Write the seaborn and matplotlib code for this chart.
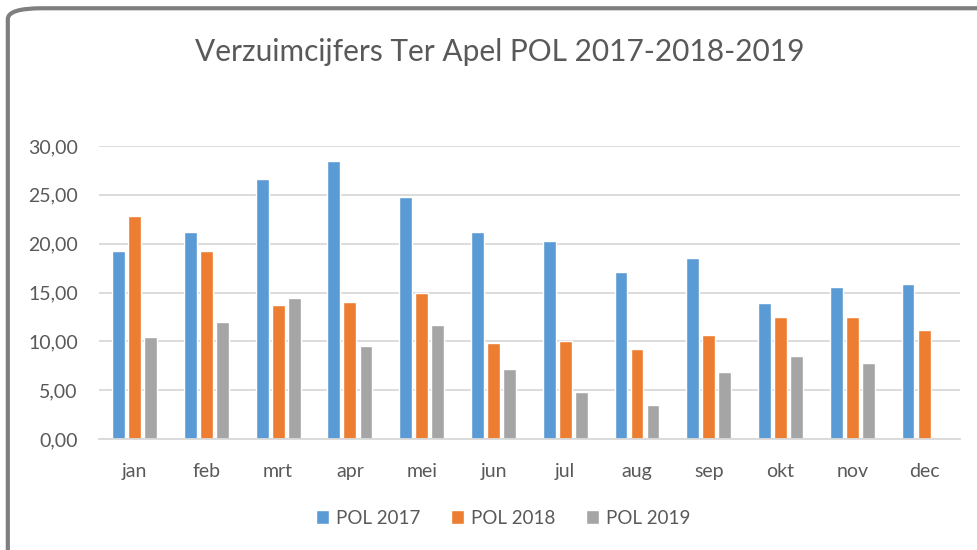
import matplotlib
matplotlib.use("Agg")
import matplotlib.pyplot as plt
import seaborn as sns
import pandas as pd
import numpy as np
from matplotlib.patches import FancyBboxPatch
from matplotlib.ticker import FuncFormatter, MultipleLocator

months = ["jan", "feb", "mrt", "apr", "mei", "jun", "jul", "aug", "sep", "okt", "nov", "dec"]
pol_2017 = [19.3, 21.2, 26.6, 28.5, 24.8, 21.2, 20.25, 17.15, 18.5, 13.95, 15.6, 15.85]
pol_2018 = [22.8, 19.3, 13.7, 14.0, 14.9, 9.85, 10.0, 9.2, 10.6, 12.45, 12.45, 11.2]
pol_2019 = [10.45, 12.0, 14.4, 9.5, 11.7, 7.2, 4.85, 3.5, 6.9, 8.5, 7.8, np.nan]
series_names = ["POL 2017", "POL 2018", "POL 2019"]
colors = ["#5B9BD5", "#ED7D31", "#A5A5A5"]

rows = []
for name, vals in zip(series_names, [pol_2017, pol_2018, pol_2019]):
    for m, v in zip(months, vals):
        rows.append({"maand": m, "serie": name, "waarde": v})
df = pd.DataFrame(rows)

sns.set_theme(style="white")
plt.rcParams["font.family"] = ["Lato", "DejaVu Sans"]
text_col = "#595959"

fig = plt.figure(figsize=(9.77, 5.5), dpi=100)
ax = fig.add_axes([0.101, 0.2018, 0.8816, 0.5327])

sns.barplot(data=df, x="maand", y="waarde", hue="serie", order=months,
            hue_order=series_names, palette=colors, width=0.67, gap=0.2,
            saturation=1, ax=ax, legend=True)

ax.set_ylim(0, 30)
ax.set_xlim(-0.5, 11.5)
ax.yaxis.set_major_locator(MultipleLocator(5))
ax.yaxis.set_major_formatter(FuncFormatter(lambda v, p: f"{v:.2f}".replace(".", ",")))
ax.grid(axis="y", color="#D9D9D9", linewidth=1.3)
ax.set_axisbelow(True)
for s in ["top", "right", "left"]:
    ax.spines[s].set_visible(False)
ax.spines["bottom"].set_color("#D9D9D9")
ax.spines["bottom"].set_linewidth(1.3)
ax.tick_params(axis="both", length=0, labelsize=14, colors=text_col)
ax.tick_params(axis="x", pad=17)
ax.tick_params(axis="y", pad=15)
ax.set_xlabel("")
ax.set_ylabel("")

leg = ax.legend(loc="center", bbox_to_anchor=(0.515, 0.058), bbox_transform=fig.transFigure,
                ncol=3, frameon=False, fontsize=13.5, handlelength=0.7, handleheight=0.7,
                columnspacing=1.6, handletextpad=0.4, labelcolor=text_col)

fig.text(0.512, 0.905, "Verzuimcijfers Ter Apel POL 2017-2018-2019", ha="center", va="center",
         fontsize=21.5, color=text_col)

border = FancyBboxPatch((0.008, -0.05), 1.1, 1.035, boxstyle="round,pad=0,rounding_size=0.035",
                        transform=fig.transFigure, facecolor="none", edgecolor="#7F7F7F",
                        linewidth=3, mutation_aspect=550/977)
fig.patches.append(border)

fig.savefig("out.png", dpi=100)
